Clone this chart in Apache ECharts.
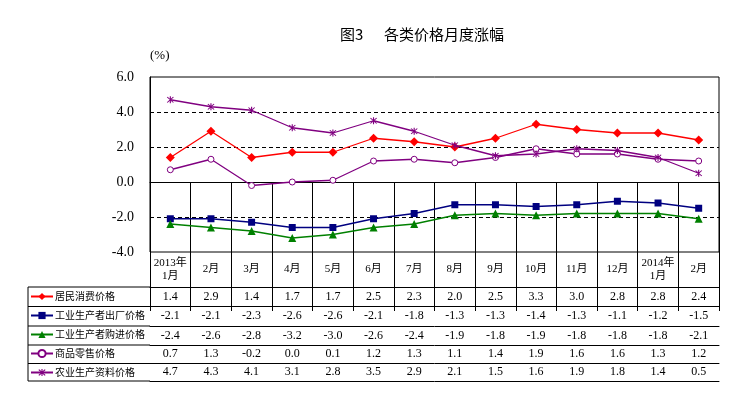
<!DOCTYPE html>
<html><head><meta charset="utf-8">
<script src="https://cdn.jsdelivr.net/npm/echarts@6/dist/echarts.min.js"></script>
<style>html,body{margin:0;padding:0;background:#fff}#c{width:736px;height:395px}</style>
</head><body><div id="c"></div>
<script>
// ---- data ----
const categories = ['2013年\n1月','2月','3月','4月','5月','6月','7月','8月','9月','10月','11月','12月','2014年\n1月','2月'];
const seriesNames = ['居民消费价格','工业生产者出厂价格','工业生产者购进价格','商品零售价格','农业生产资料价格'];
const cpi   = [1.4, 2.9, 1.4, 1.7, 1.7, 2.5, 2.3, 2.0, 2.5, 3.3, 3.0, 2.8, 2.8, 2.4];
const ppi   = [-2.1, -2.1, -2.3, -2.6, -2.6, -2.1, -1.8, -1.3, -1.3, -1.4, -1.3, -1.1, -1.2, -1.5];
const ppirm = [-2.4, -2.6, -2.8, -3.2, -3.0, -2.6, -2.4, -1.9, -1.8, -1.9, -1.8, -1.8, -1.8, -2.1];
const retail = [0.7, 1.3, -0.2, 0.0, 0.1, 1.2, 1.3, 1.1, 1.4, 1.9, 1.6, 1.6, 1.3, 1.2];
const agri  = [4.7, 4.3, 4.1, 3.1, 2.8, 3.5, 2.9, 2.1, 1.5, 1.6, 1.9, 1.8, 1.4, 0.5];
const yTicks = {min: -4, max: 6, interval: 2};

// ---- layout / style ----
const allData = [cpi, ppi, ppirm, retail, agri];
const colors = ['#FF0000', '#000080', '#008000', '#800080', '#800080'];
const asterisk = 'path://M4.3,0L5.7,0L5.7,10L4.3,10Z M0.6,1.6L1.6,0.6L9.4,8.4L8.4,9.4Z M8.4,0.6L9.4,1.6L1.6,9.4L0.6,8.4Z';
const symbols = ['diamond', 'rect', 'triangle', 'circle', asterisk];
const symbolSizes = [9, 7, 8, 6, 7];
const GL = 150, GR = 17, GT = 77, GH = 175;
const GB_Y = GT + GH;            // y of plot bottom / table top
const rowTops = [35, 54.5, 74, 93, 111.5]; // offsets of data rows below plot bottom
const tableBottom = 129;
const TL = 28;                   // table left edge
const serif = "'Liberation Serif', 'Noto Sans CJK SC', serif";
const cjk = "'Noto Sans CJK SC', sans-serif";

const xAxes = [{
  type: 'category', gridIndex: 0, position: 'bottom',
  data: categories.map((c, i) => String(i)), boundaryGap: true,
  axisLine: {show: true, lineStyle: {color: '#000', width: 1}},
  axisTick: {show: true, interval: 0, length: tableBottom, lineStyle: {color: '#000', width: 1}},
  axisLabel: {interval: 0, formatter: (v, i) => categories[i], margin: rowTops[0] / 2,
    verticalAlign: 'middle', color: '#000', fontSize: 11, lineHeight: 13, fontFamily: serif}
}];
allData.forEach((arr, r) => {
  const nextTop = r < rowTops.length - 1 ? rowTops[r + 1] : tableBottom;
  xAxes.push({
    type: 'category', gridIndex: 0, position: 'bottom', offset: rowTops[r],
    data: categories.map((c, i) => String(i)), boundaryGap: true,
    axisLine: {show: true, onZero: false, lineStyle: {color: '#000', width: 1}},
    axisTick: {show: false},
    axisLabel: {interval: 0, formatter: (v, i) => arr[i].toFixed(1), margin: (nextTop - rowTops[r]) / 2,
      verticalAlign: 'middle', color: '#000', fontSize: 12, fontFamily: serif}
  });
});
xAxes.push({
  type: 'category', gridIndex: 0, position: 'bottom', offset: tableBottom,
  data: categories.map((c, i) => String(i)),
  axisLine: {show: true, onZero: false, lineStyle: {color: '#000', width: 1}},
  axisTick: {show: false}, axisLabel: {show: false}
});

const graphics = [];
rowTops.concat([tableBottom]).forEach(off => {
  graphics.push({type: 'line', shape: {x1: TL, y1: GB_Y + off, x2: GL, y2: GB_Y + off},
    style: {stroke: '#000', lineWidth: 1}, silent: true});
});
graphics.push({type: 'line', shape: {x1: TL, y1: GB_Y + rowTops[0], x2: TL, y2: GB_Y + tableBottom},
  style: {stroke: '#000', lineWidth: 1}, silent: true});

const series = allData.map((arr, i) => ({
  name: seriesNames[i], type: 'line', xAxisIndex: 0, yAxisIndex: 0,
  data: arr, symbol: symbols[i], symbolSize: symbolSizes[i], showAllSymbol: true,
  itemStyle: i === 3 ? {color: '#fff', borderColor: colors[i], borderWidth: 1} : {color: colors[i]},
  lineStyle: {color: colors[i], width: 1.3},
  z: 5 + i,
  markLine: i === 0 ? {silent: true, symbol: ['none', 'none'], label: {show: false},
    lineStyle: {color: '#000', type: 'solid', width: 1}, data: [{yAxis: 0}], animation: false} : undefined
}));

const chart = echarts.init(document.getElementById('c'), null, {renderer: 'canvas'});
chart.setOption({
  animation: false,
  backgroundColor: '#fff',
  title: [
    {text: '图3', left: 335, top: 22, textStyle: {fontSize: 15, fontWeight: 'normal', color: '#000', fontFamily: cjk}},
    {text: '各类价格月度涨幅', left: 379, top: 22, textStyle: {fontSize: 15, fontWeight: 'normal', color: '#000', fontFamily: cjk}},
    {text: '(%)', left: 145, top: 44, textStyle: {fontSize: 13, fontWeight: 'normal', color: '#000', fontFamily: serif}}
  ],
  grid: {left: GL, right: GR, top: GT, height: GH, show: true, borderColor: '#000', borderWidth: 1, backgroundColor: 'transparent'},
  legend: {
    orient: 'vertical', left: 30, top: GB_Y + rowTops[0] + 3.5, padding: 0,
    itemWidth: 22, itemHeight: 9, itemGap: 7,
    textStyle: {fontSize: 10, lineHeight: 12, color: '#000', fontFamily: cjk, padding: [0, 0, 0, -3]},
    data: seriesNames, selectedMode: false
  },
  xAxis: xAxes,
  yAxis: {
    type: 'value', min: yTicks.min, max: yTicks.max, interval: yTicks.interval,
    axisLine: {show: true, lineStyle: {color: '#000', width: 1}},
    axisTick: {show: false},
    axisLabel: {formatter: v => v.toFixed(1), color: '#000', fontSize: 14, fontFamily: serif, margin: 16},
    splitLine: {show: true, showMinLine: false, showMaxLine: false, lineStyle: {color: '#000', type: [4, 3], width: 1}}
  },
  graphic: graphics,
  series: series
});
</script>
</body></html>
